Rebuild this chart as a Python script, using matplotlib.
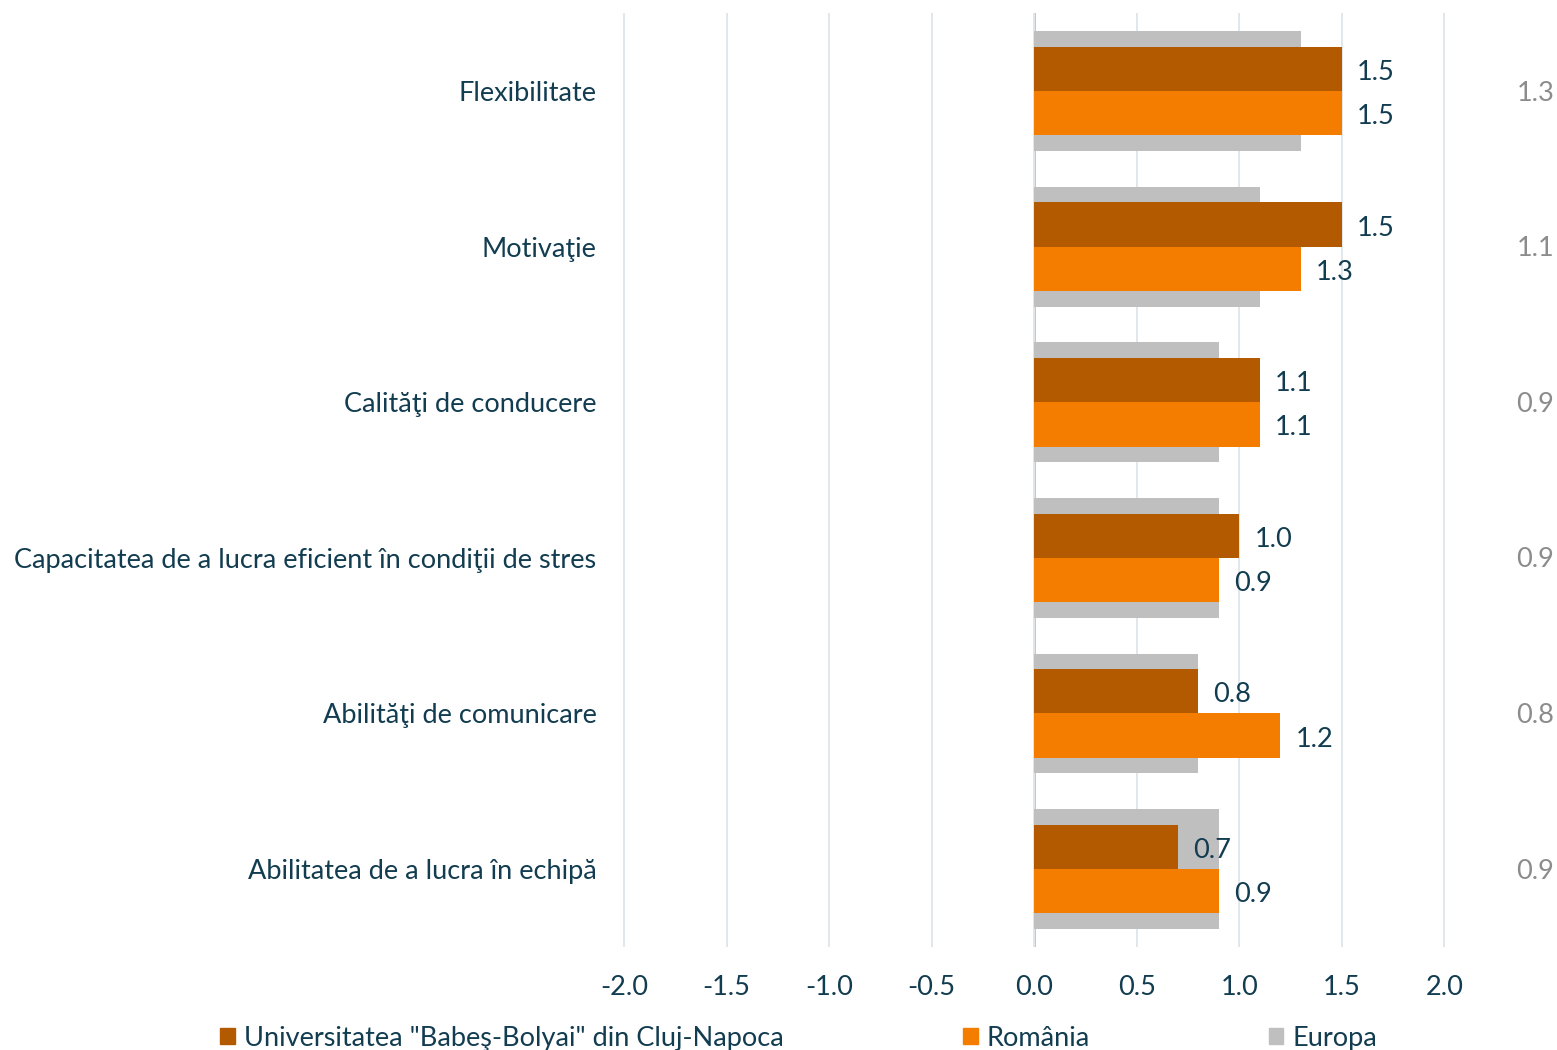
import matplotlib
matplotlib.use("Agg")
from matplotlib import pyplot as plt
from matplotlib.patches import Patch
import numpy as np

plt.rcParams['font.family'] = ['Lato', 'DejaVu Sans']

categories = ['Flexibilitate', 'Motivaţie', 'Calităţi de conducere',
              'Capacitatea de a lucra eficient în condiţii de stres',
              'Abilităţi de comunicare', 'Abilitatea de a lucra în echipă']
ubb = [1.5, 1.5, 1.1, 1.0, 0.8, 0.7]
romania = [1.5, 1.3, 1.1, 0.9, 1.2, 0.9]
europa = [1.3, 1.1, 0.9, 0.9, 0.8, 0.9]
series_names = ['Universitatea "Babeş-Bolyai" din Cluj-Napoca', 'România', 'Europa']
xticks = [-2.0, -1.5, -1.0, -0.5, 0.0, 0.5, 1.0, 1.5, 2.0]

c_ubb = '#B35A00'
c_ro = '#F47D00'
c_eu = '#BFBFBF'
txt = '#123C50'
fs = 19.5

fig = plt.figure(figsize=(15.57, 10.5), dpi=100)
ax = fig.add_axes([0.3876, 0.0983, 0.5533, 0.889])

y = np.arange(len(categories))
h = 0.285

ax.barh(y, europa, height=0.77, color=c_eu, zorder=2)
b1 = ax.barh(y - h / 2, ubb, height=h, color=c_ubb, zorder=3)
b2 = ax.barh(y + h / 2, romania, height=h, color=c_ro, zorder=3)

for bars in (b1, b2):
    labels = ax.bar_label(bars, fmt='%.1f', padding=11, fontsize=fs, color=txt, zorder=4)
    for t in labels:
        t.xyann = (11, -2.5)  # nudge down a little

# Europa values shown on the right side
for yi, v in zip(y, europa):
    ax.annotate(f'{v:.1f}', (2.535, yi), xytext=(0, -1.5), textcoords='offset points',
                ha='right', va='center', fontsize=fs, color='#8C8C8C',
                annotation_clip=False)

ax.set_xlim(-2.1, 2.1)
ax.set_ylim(len(categories) - 0.5, -0.5)
ax.set_xticks(xticks)
ax.set_xticklabels([f'{t:.1f}' for t in xticks])
ax.set_yticks(y)
ax.set_yticklabels(categories)
ax.tick_params(axis='both', length=0, labelsize=fs, labelcolor=txt)
ax.tick_params(axis='x', pad=20)
ax.tick_params(axis='y', pad=5)

ax.grid(axis='x', color='#E1E7EA', linewidth=1.4, zorder=0)
ax.axvline(0, color='#BBBBBB', linewidth=1.9, zorder=1)
for s in ax.spines.values():
    s.set_visible(False)

handles = [Patch(color=c_ubb, label=series_names[0]),
           Patch(color=c_ro, label=series_names[1]),
           Patch(color=c_eu, label=series_names[2])]
leg = fig.legend(handles=handles, loc='center', bbox_to_anchor=(0.513, 0.0114),
                 ncol=3, frameon=False, fontsize=fs, handlelength=0.55,
                 handleheight=0.55, handletextpad=0.33, columnspacing=6.6)
for t in leg.get_texts():
    t.set_color(txt)

fig.savefig('out.png', dpi=100)
